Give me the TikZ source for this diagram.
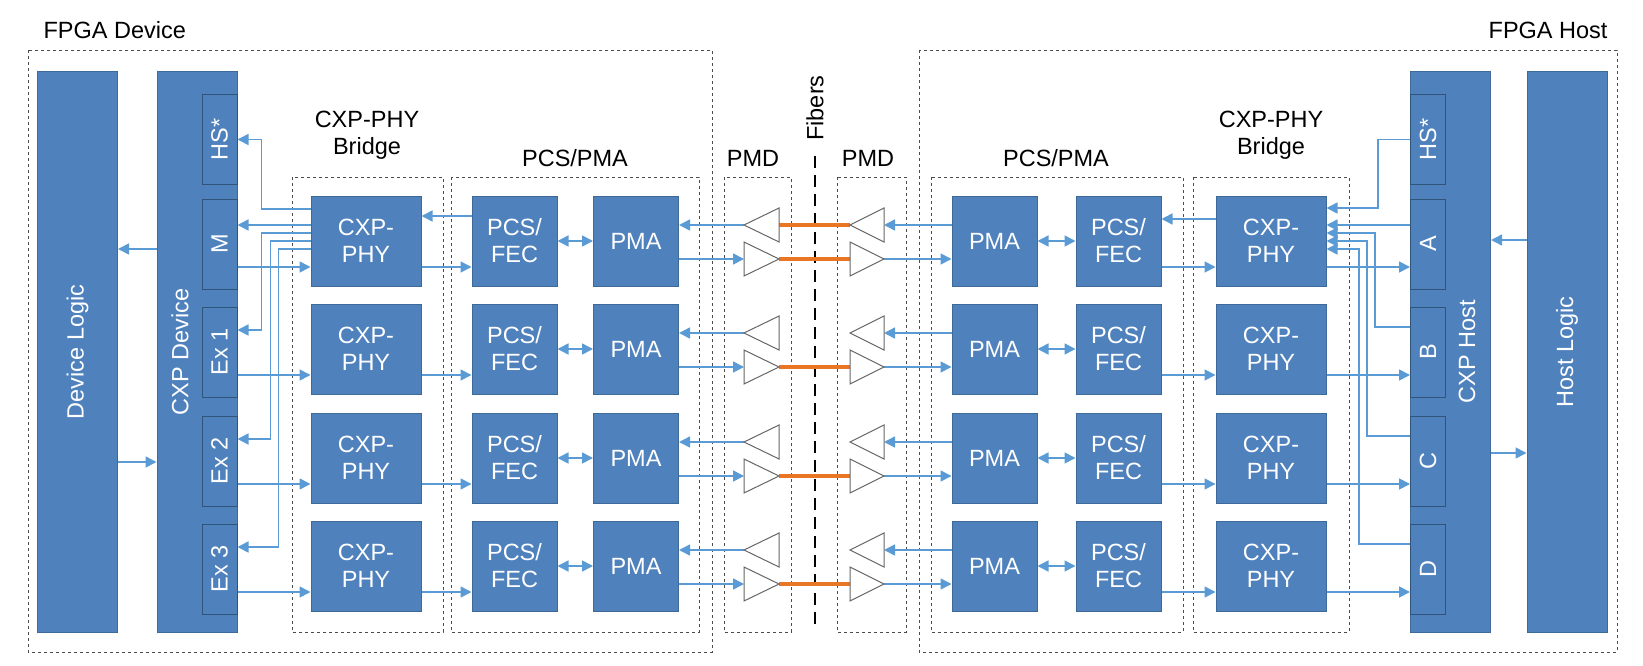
\documentclass[tikz,border=0pt]{standalone}
\usepackage{fontspec}
\setmainfont{Liberation Sans}
\definecolor{boxblue}{RGB}{79,129,189}
\definecolor{boxedge}{RGB}{61,106,153}
\definecolor{linkblue}{RGB}{91,155,213}
\definecolor{fiberorange}{RGB}{232,118,36}
\usetikzlibrary{arrows.meta,positioning,calc}

\tikzset{
  blk/.style={draw=boxedge,fill=boxblue,line width=1pt,text=white,align=center,
    font=\fontsize{23.5}{27}\selectfont,inner sep=0pt},
  bar/.style={blk,minimum width=80pt,minimum height=560pt},
  sub/.style={blk,draw=boxedge!80!black,minimum width=90pt,minimum height=35pt,rotate=90},
  phy/.style={blk,minimum width=110pt,minimum height=90pt},
  mid/.style={blk,minimum width=85pt,minimum height=90pt},
  grp/.style={draw=black!70,dashed,line width=0.7pt},
  lbl/.style={font=\fontsize{23.5}{27}\selectfont,align=center},
  arr/.style={draw=linkblue,line width=1.6pt,-{Triangle[length=11pt,width=11pt]}},
  biarr/.style={arr,{Triangle[length=11pt,width=11pt]}-{Triangle[length=11pt,width=11pt]}},
  fiber/.style={draw=fiberorange,line width=4pt},
  amp/.style={draw=black!60,fill=white,line width=1pt}
}

\begin{document}
\begin{tikzpicture}[x=1pt,y=-1pt]
\useasboundingbox (0,0) rectangle (1643,666);

% groups
\draw[grp] (28,50) rectangle (712,652);
\draw[grp] (919,50) rectangle (1617,652);
\draw[grp] (292,177) rectangle (443,632);
\draw[grp] (451,177) rectangle (699,632);
\draw[grp] (724,177) rectangle (791,632);
\draw[grp] (837,177) rectangle (906,632);
\draw[grp] (931,177) rectangle (1183,632);
\draw[grp] (1193,177) rectangle (1349,632);
\node[lbl,anchor=west] (devtitle) at (40,30) {FPGA Device};
\node[lbl,anchor=east] (hosttitle) at (1611,30) {FPGA Host};
\node[lbl] (bridgeL) at (367,135) {CXP-PHY\\Bridge};
\node[lbl] (bridgeR) at (1271,135) {CXP-PHY\\Bridge};
\node[lbl] (pcsL) at (575,158) {PCS/PMA};
\node[lbl] (pcsR) at (1056,158) {PCS/PMA};
\node[lbl] (pmdL) at (753,158) {PMD};
\node[lbl] (pmdR) at (868,158) {PMD};

% fibers
\coordinate (fibtop) at (815,156);
\coordinate (fibbot) at (815,630);
\draw[line width=1.6pt,dash pattern=on 12pt off 7pt] (fibtop) -- (fibbot);
\node[lbl,rotate=90] (fiblbl) at (815,108) {Fibers};

% device side
\node[bar] (devlogic) at (77.5,352) {};
\node[lbl,text=white,rotate=90] at (devlogic) {Device Logic};
\node[bar] (cxpdev) at (197,352) {};
\node[lbl,text=white,rotate=90] at (180,352) {CXP Device};
\node[sub] (sLhs) at (219.5,139.5) {HS*};
% host side
\node[bar] (hostlogic) at (1567,352) {};
\node[lbl,text=white,rotate=90] at (hostlogic) {Host Logic};
\node[bar] (cxphost) at (1450.5,352) {};
\node[lbl,text=white,rotate=90] at (1467,352) {CXP Host};
\node[sub] (sRhs) at (1428,139.5) {HS*};

\foreach \r/\y/\ln/\rn in {1/241/M/A,2/349/Ex 1/B,3/458/Ex 2/C,4/566/Ex 3/D}{
  \node[sub] (sL\r) at (219.5,\y+3) {\ln};
  \node[sub] (sR\r) at (1428,\y+3) {\rn};
  \node[phy] (cphyL\r) at (366,\y) {CXP-\\PHY};
  \node[mid] (fecL\r) at (514.5,\y) {PCS/\\FEC};
  \node[mid] (pmaL\r) at (636,\y) {PMA};
  \node[mid] (pmaR\r) at (994.5,\y) {PMA};
  \node[mid] (fecR\r) at (1118.5,\y) {PCS/\\FEC};
  \node[phy] (cphyR\r) at (1271,\y) {CXP-\\PHY};
  \coordinate (rxLt\r) at (744,\y-16);
  \coordinate (rxLb\r) at (779,\y-16);
  \coordinate (txLb\r) at (744,\y+18);
  \coordinate (txLt\r) at (779,\y+18);
  \coordinate (rxRt\r) at (850,\y-16);
  \coordinate (rxRb\r) at (884,\y-16);
  \coordinate (txRb\r) at (850,\y+18);
  \coordinate (txRt\r) at (884,\y+18);
  % lanes
  \draw[fiber] (txLt\r) -- (txRb\r);
  \draw[arr] (sL\r.south |- {$(cphyL\r.west)+(0,26)$}) -- ($(cphyL\r.west)+(0,26)$);
  \draw[arr] ($(cphyL\r.east)+(0,26)$) -- ($(fecL\r.west)+(0,26)$);
  \draw[biarr] (fecL\r) -- (pmaL\r);
  \draw[arr] (rxLt\r) -- (pmaL\r.east |- rxLt\r);
  \draw[arr] (pmaL\r.east |- txLb\r) -- (txLb\r);
  \draw[arr] (pmaR\r.west |- rxRb\r) -- (rxRb\r);
  \draw[arr] (txRt\r) -- (pmaR\r.west |- txRt\r);
  \draw[biarr] (pmaR\r) -- (fecR\r);
  \draw[arr] ($(fecR\r.east)+(0,26)$) -- ($(cphyR\r.west)+(0,26)$);
  \draw[arr] ($(cphyR\r.east)+(0,26)$) -- (sR\r.north |- {$(cphyR\r.east)+(0,26)$});
}
\draw[fiber] (rxLb1) -- (rxRt1);
% amplifiers
\foreach \r in {1,...,4}{
  \draw[amp] (rxLt\r) -- ([yshift=-17pt]rxLb\r) -- ([yshift=17pt]rxLb\r) -- cycle;
  \draw[amp] ([yshift=-17pt]txLb\r) -- (txLt\r) -- ([yshift=17pt]txLb\r) -- cycle;
  \draw[amp] (rxRt\r) -- ([yshift=-17pt]rxRb\r) -- ([yshift=17pt]rxRb\r) -- cycle;
  \draw[amp] ([yshift=-17pt]txRb\r) -- (txRt\r) -- ([yshift=17pt]txRb\r) -- cycle;
}

% control lanes, device
\draw[arr] ($(fecL1.west)+(0,-25)$) -- ($(cphyL1.east)+(0,-25)$);
\draw[arr] ($(cphyL1.west)+(0,-32)$) -- ++(-49,0) |- (sLhs.south);
\draw[arr] ($(cphyL1.west)+(0,-16)$) -- (sL1.south |- {$(cphyL1.west)+(0,-16)$});
\draw[arr] ($(cphyL1.west)+(0,-8)$) -- ++(-49,0) |- ($(sL2.south)+(0,-22)$);
\draw[arr] ($(cphyL1.west)+(0,0)$) -- ++(-40,0) |- ($(sL3.south)+(0,-22)$);
\draw[arr] ($(cphyL1.west)+(0,8)$) -- ++(-32,0) |- ($(sL4.south)+(0,-22)$);
\draw[arr] ($(cxpdev.west)+(0,-103)$) -- ($(devlogic.east)+(0,-103)$);
\draw[arr] ($(devlogic.east)+(0,110)$) -- ($(cxpdev.west)+(0,110)$);

% control lanes, host
\draw[arr] ($(cphyR1.west)+(0,-22)$) -- ($(fecR1.east)+(0,-22)$);
\draw[arr] (sRhs.north) -- ++(-32,0) |- ($(cphyR1.east)+(0,-33)$);
\draw[arr] (sR1.north |- {$(cphyR1.east)+(0,-16)$}) -- ($(cphyR1.east)+(0,-16)$);
\draw[arr] ($(sR2.north)+(0,-25)$) -- ++(-35,0) |- ($(cphyR1.east)+(0,-8)$);
\draw[arr] ($(sR3.north)+(0,-25)$) -- ++(-43,0) |- ($(cphyR1.east)+(0,0)$);
\draw[arr] ($(sR4.north)+(0,-25)$) -- ++(-51,0) |- ($(cphyR1.east)+(0,8)$);
\draw[arr] ($(hostlogic.west)+(0,-112)$) -- ($(cxphost.east)+(0,-112)$);
\draw[arr] ($(cxphost.east)+(0,101)$) -- ($(hostlogic.west)+(0,101)$);
\end{tikzpicture}
\end{document}
